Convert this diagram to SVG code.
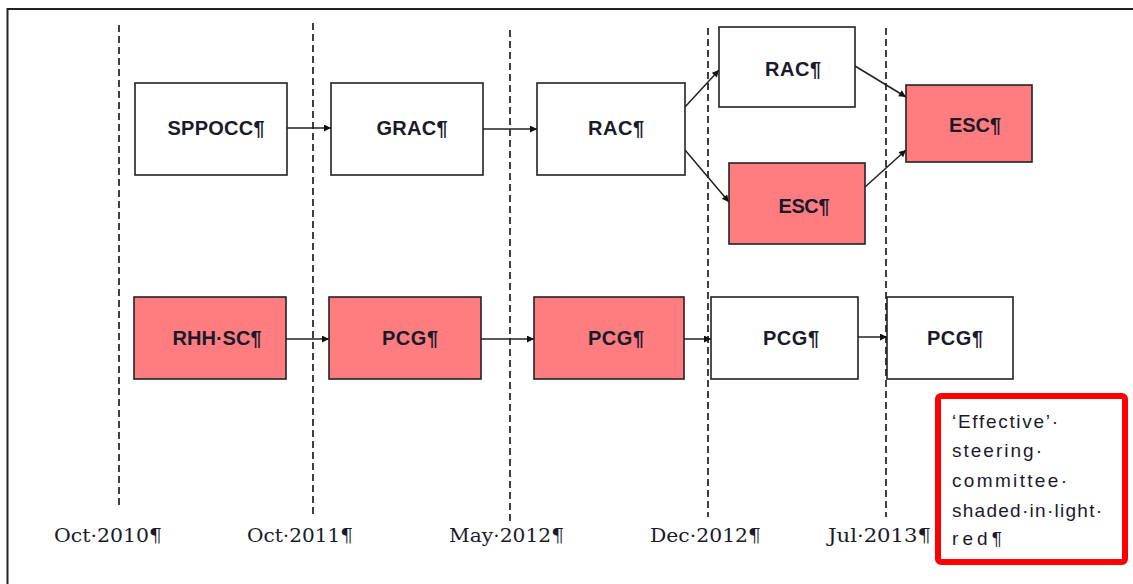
<svg xmlns="http://www.w3.org/2000/svg" width="1133" height="584" viewBox="0 0 1133 584">
  <style>
    .frame { stroke: #222; stroke-width: 2; fill: none; }
    .tick { stroke: #111; stroke-width: 1.6; stroke-dasharray: 7 4; fill: none; }
    .box { stroke: #222; stroke-width: 1.6; fill: #ffffff; }
    .box.hot { fill: #ff7c80; }
    .lbl { font-family: "Liberation Sans", Arial, sans-serif; font-weight: bold; font-size: 20px; fill: #1a1a2a; text-anchor: middle; }
    .date { font-family: "DejaVu Serif", "Liberation Serif", serif; font-size: 19px; fill: #1a1a2a; }
    .edge { stroke: #222; stroke-width: 1.5; fill: none; marker-end: url(#head); }
    .note { font-family: "Liberation Sans", Arial, sans-serif; font-size: 19px; fill: #1a1a2a; }
  </style>
  <defs>
    <marker id="head" viewBox="0 0 10 10" refX="10" refY="5" markerWidth="8" markerHeight="7" markerUnits="userSpaceOnUse" orient="auto">
      <path d="M0,0 L10,5 L0,10 z" fill="#111"/>
    </marker>
  </defs>

  <rect width="1133" height="584" fill="#ffffff"/>

  <!-- outer frame (top and left edges only) -->
  <path class="frame" d="M7.5,584 V9 H1133"/>

  <!-- timeline markers -->
  <g id="timeline">
    <line class="tick" x1="119" y1="25" x2="119" y2="508"/>
    <line class="tick" x1="313" y1="23" x2="313" y2="517"/>
    <line class="tick" x1="510" y1="30" x2="510" y2="523"/>
    <line class="tick" x1="708" y1="28" x2="708" y2="517"/>
    <line class="tick" x1="886" y1="28" x2="886" y2="517"/>
    <text class="date" x="54" y="542" textLength="108" lengthAdjust="spacingAndGlyphs">Oct·2010¶</text>
    <text class="date" x="247" y="542" textLength="106" lengthAdjust="spacingAndGlyphs">Oct·2011¶</text>
    <text class="date" x="449" y="542" textLength="115" lengthAdjust="spacingAndGlyphs">May·2012¶</text>
    <text class="date" x="650" y="542" textLength="111" lengthAdjust="spacingAndGlyphs">Dec·2012¶</text>
    <text class="date" x="828" y="542" textLength="103" lengthAdjust="spacingAndGlyphs">Jul·2013¶</text>
  </g>

  <!-- connectors -->
  <g id="connectors">
    <line class="edge" x1="287" y1="128" x2="331" y2="128"/>
    <line class="edge" x1="483" y1="129" x2="537" y2="129"/>
    <line class="edge" x1="685" y1="107" x2="719" y2="70"/>
    <line class="edge" x1="685" y1="150" x2="729" y2="202"/>
    <line class="edge" x1="855" y1="66" x2="906" y2="97"/>
    <line class="edge" x1="865" y1="187" x2="906" y2="150"/>
    <line class="edge" x1="286" y1="339" x2="329" y2="339"/>
    <line class="edge" x1="481" y1="339" x2="534" y2="339"/>
    <line class="edge" x1="684" y1="339" x2="711" y2="339"/>
    <line class="edge" x1="858" y1="337" x2="887" y2="337"/>
  </g>

  <!-- upper row -->
  <g id="sppocc">
    <rect class="box" x="135" y="83" width="152" height="92"/>
    <text class="lbl" x="216" y="135" textLength="97">SPPOCC¶</text>
  </g>
  <g id="grac">
    <rect class="box" x="331" y="83" width="152" height="92"/>
    <text class="lbl" x="412" y="135" textLength="71">GRAC¶</text>
  </g>
  <g id="rac-1">
    <rect class="box" x="537" y="83" width="148" height="92"/>
    <text class="lbl" x="616" y="135" textLength="56">RAC¶</text>
  </g>
  <g id="rac-2">
    <rect class="box" x="719" y="27" width="136" height="80"/>
    <text class="lbl" x="793" y="76" textLength="56">RAC¶</text>
  </g>
  <g id="esc-1">
    <rect class="box hot" x="729" y="163" width="136" height="81"/>
    <text class="lbl" x="804" y="213" textLength="51">ESC¶</text>
  </g>
  <g id="esc-2">
    <rect class="box hot" x="906" y="85" width="126" height="77"/>
    <text class="lbl" x="975" y="132" textLength="52">ESC¶</text>
  </g>

  <!-- lower row -->
  <g id="rhh-sc">
    <rect class="box hot" x="134" y="297" width="152" height="82"/>
    <text class="lbl" x="217" y="345" textLength="89">RHH·SC¶</text>
  </g>
  <g id="pcg-1">
    <rect class="box hot" x="329" y="297" width="152" height="82"/>
    <text class="lbl" x="410" y="345" textLength="56">PCG¶</text>
  </g>
  <g id="pcg-2">
    <rect class="box hot" x="534" y="297" width="150" height="82"/>
    <text class="lbl" x="616" y="345" textLength="56">PCG¶</text>
  </g>
  <g id="pcg-3">
    <rect class="box" x="711" y="297" width="147" height="82"/>
    <text class="lbl" x="791" y="345" textLength="56">PCG¶</text>
  </g>
  <g id="pcg-4">
    <rect class="box" x="887" y="297" width="126" height="82"/>
    <text class="lbl" x="955" y="345" textLength="56">PCG¶</text>
  </g>

  <!-- legend -->
  <g id="legend">
    <rect x="938" y="396" width="187" height="166" rx="3" fill="#ffffff" stroke="#ff0000" stroke-width="6"/>
    <text class="note" x="952" y="428" textLength="106" lengthAdjust="spacing">‘Effective’·</text>
    <text class="note" x="952" y="457" textLength="90" lengthAdjust="spacing">steering·</text>
    <text class="note" x="952" y="487" textLength="115" lengthAdjust="spacing">committee·</text>
    <text class="note" x="952" y="517" textLength="150" lengthAdjust="spacing">shaded·in·light·</text>
    <text class="note" x="952" y="545" textLength="50" lengthAdjust="spacing">red¶</text>
  </g>
</svg>
